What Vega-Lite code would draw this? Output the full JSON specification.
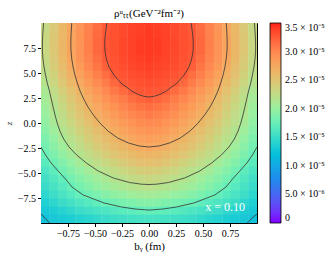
{
"$schema":"https://vega.github.io/schema/vega-lite/v6.json",
"width":216,"height":200,
"autosize":{"type":"none"},
"padding":{"left":41,"top":23,"right":78,"bottom":38},
"title":{"text":"ρᵘₜₜ(GeV⁻²fm⁻²)","fontSize":11,"font":"Liberation Serif","fontWeight":"normal","offset":4,"color":"black"},
"config":{"view":{"stroke":"black","strokeWidth":1},"font":"Liberation Serif",
"axis":{"labelFont":"Liberation Serif","labelFontSize":10,"labelColor":"black","labelOverlap":false,"tickColor":"black","domainColor":"black","grid":false,"tickSize":3.5,"titleFont":"Liberation Serif","titleFontSize":11,"titleFontWeight":"normal","titleColor":"black"}},
"datasets":{
"heat":[
{"b":-0.96,"z":9.6,"v":2.29e-5},{"b":-0.88,"z":9.6,"v":2.45e-5},{"b":-0.8,"z":9.6,"v":2.61e-5},{"b":-0.72,"z":9.6,"v":2.76e-5},{"b":-0.64,"z":9.6,"v":2.90e-5},{"b":-0.56,"z":9.6,"v":3.03e-5},{"b":-0.48,"z":9.6,"v":3.15e-5},{"b":-0.4,"z":9.6,"v":3.25e-5},{"b":-0.32,"z":9.6,"v":3.30e-5},{"b":-0.24,"z":9.6,"v":3.34e-5},{"b":-0.16,"z":9.6,"v":3.37e-5},{"b":-0.08,"z":9.6,"v":3.39e-5},{"b":0,"z":9.6,"v":3.41e-5},{"b":0.08,"z":9.6,"v":3.39e-5},{"b":0.16,"z":9.6,"v":3.37e-5},{"b":0.24,"z":9.6,"v":3.34e-5},{"b":0.32,"z":9.6,"v":3.30e-5},{"b":0.4,"z":9.6,"v":3.25e-5},{"b":0.48,"z":9.6,"v":3.15e-5},{"b":0.56,"z":9.6,"v":3.03e-5},{"b":0.64,"z":9.6,"v":2.90e-5},{"b":0.72,"z":9.6,"v":2.76e-5},{"b":0.8,"z":9.6,"v":2.61e-5},{"b":0.88,"z":9.6,"v":2.45e-5},{"b":0.96,"z":9.6,"v":2.29e-5},
{"b":-0.96,"z":8.8,"v":2.30e-5},{"b":-0.88,"z":8.8,"v":2.46e-5},{"b":-0.8,"z":8.8,"v":2.62e-5},{"b":-0.72,"z":8.8,"v":2.77e-5},{"b":-0.64,"z":8.8,"v":2.91e-5},{"b":-0.56,"z":8.8,"v":3.04e-5},{"b":-0.48,"z":8.8,"v":3.17e-5},{"b":-0.4,"z":8.8,"v":3.26e-5},{"b":-0.32,"z":8.8,"v":3.31e-5},{"b":-0.24,"z":8.8,"v":3.34e-5},{"b":-0.16,"z":8.8,"v":3.38e-5},{"b":-0.08,"z":8.8,"v":3.40e-5},{"b":0,"z":8.8,"v":3.42e-5},{"b":0.08,"z":8.8,"v":3.40e-5},{"b":0.16,"z":8.8,"v":3.38e-5},{"b":0.24,"z":8.8,"v":3.34e-5},{"b":0.32,"z":8.8,"v":3.31e-5},{"b":0.4,"z":8.8,"v":3.26e-5},{"b":0.48,"z":8.8,"v":3.17e-5},{"b":0.56,"z":8.8,"v":3.04e-5},{"b":0.64,"z":8.8,"v":2.91e-5},{"b":0.72,"z":8.8,"v":2.77e-5},{"b":0.8,"z":8.8,"v":2.62e-5},{"b":0.88,"z":8.8,"v":2.46e-5},{"b":0.96,"z":8.8,"v":2.30e-5},
{"b":-0.96,"z":8.0,"v":2.31e-5},{"b":-0.88,"z":8.0,"v":2.47e-5},{"b":-0.8,"z":8.0,"v":2.63e-5},{"b":-0.72,"z":8.0,"v":2.78e-5},{"b":-0.64,"z":8.0,"v":2.92e-5},{"b":-0.56,"z":8.0,"v":3.05e-5},{"b":-0.48,"z":8.0,"v":3.18e-5},{"b":-0.4,"z":8.0,"v":3.27e-5},{"b":-0.32,"z":8.0,"v":3.31e-5},{"b":-0.24,"z":8.0,"v":3.35e-5},{"b":-0.16,"z":8.0,"v":3.38e-5},{"b":-0.08,"z":8.0,"v":3.41e-5},{"b":0,"z":8.0,"v":3.42e-5},{"b":0.08,"z":8.0,"v":3.41e-5},{"b":0.16,"z":8.0,"v":3.38e-5},{"b":0.24,"z":8.0,"v":3.35e-5},{"b":0.32,"z":8.0,"v":3.31e-5},{"b":0.4,"z":8.0,"v":3.27e-5},{"b":0.48,"z":8.0,"v":3.18e-5},{"b":0.56,"z":8.0,"v":3.05e-5},{"b":0.64,"z":8.0,"v":2.92e-5},{"b":0.72,"z":8.0,"v":2.78e-5},{"b":0.8,"z":8.0,"v":2.63e-5},{"b":0.88,"z":8.0,"v":2.47e-5},{"b":0.96,"z":8.0,"v":2.31e-5},
{"b":-0.96,"z":7.2,"v":2.31e-5},{"b":-0.88,"z":7.2,"v":2.47e-5},{"b":-0.8,"z":7.2,"v":2.63e-5},{"b":-0.72,"z":7.2,"v":2.78e-5},{"b":-0.64,"z":7.2,"v":2.92e-5},{"b":-0.56,"z":7.2,"v":3.05e-5},{"b":-0.48,"z":7.2,"v":3.18e-5},{"b":-0.4,"z":7.2,"v":3.27e-5},{"b":-0.32,"z":7.2,"v":3.31e-5},{"b":-0.24,"z":7.2,"v":3.35e-5},{"b":-0.16,"z":7.2,"v":3.38e-5},{"b":-0.08,"z":7.2,"v":3.41e-5},{"b":0,"z":7.2,"v":3.42e-5},{"b":0.08,"z":7.2,"v":3.41e-5},{"b":0.16,"z":7.2,"v":3.38e-5},{"b":0.24,"z":7.2,"v":3.35e-5},{"b":0.32,"z":7.2,"v":3.31e-5},{"b":0.4,"z":7.2,"v":3.27e-5},{"b":0.48,"z":7.2,"v":3.18e-5},{"b":0.56,"z":7.2,"v":3.05e-5},{"b":0.64,"z":7.2,"v":2.92e-5},{"b":0.72,"z":7.2,"v":2.78e-5},{"b":0.8,"z":7.2,"v":2.63e-5},{"b":0.88,"z":7.2,"v":2.47e-5},{"b":0.96,"z":7.2,"v":2.31e-5},
{"b":-0.96,"z":6.4,"v":2.29e-5},{"b":-0.88,"z":6.4,"v":2.45e-5},{"b":-0.8,"z":6.4,"v":2.61e-5},{"b":-0.72,"z":6.4,"v":2.76e-5},{"b":-0.64,"z":6.4,"v":2.90e-5},{"b":-0.56,"z":6.4,"v":3.03e-5},{"b":-0.48,"z":6.4,"v":3.15e-5},{"b":-0.4,"z":6.4,"v":3.25e-5},{"b":-0.32,"z":6.4,"v":3.30e-5},{"b":-0.24,"z":6.4,"v":3.34e-5},{"b":-0.16,"z":6.4,"v":3.37e-5},{"b":-0.08,"z":6.4,"v":3.39e-5},{"b":0,"z":6.4,"v":3.41e-5},{"b":0.08,"z":6.4,"v":3.39e-5},{"b":0.16,"z":6.4,"v":3.37e-5},{"b":0.24,"z":6.4,"v":3.34e-5},{"b":0.32,"z":6.4,"v":3.30e-5},{"b":0.4,"z":6.4,"v":3.25e-5},{"b":0.48,"z":6.4,"v":3.15e-5},{"b":0.56,"z":6.4,"v":3.03e-5},{"b":0.64,"z":6.4,"v":2.90e-5},{"b":0.72,"z":6.4,"v":2.76e-5},{"b":0.8,"z":6.4,"v":2.61e-5},{"b":0.88,"z":6.4,"v":2.45e-5},{"b":0.96,"z":6.4,"v":2.29e-5},
{"b":-0.96,"z":5.6,"v":2.26e-5},{"b":-0.88,"z":5.6,"v":2.42e-5},{"b":-0.8,"z":5.6,"v":2.57e-5},{"b":-0.72,"z":5.6,"v":2.72e-5},{"b":-0.64,"z":5.6,"v":2.86e-5},{"b":-0.56,"z":5.6,"v":2.99e-5},{"b":-0.48,"z":5.6,"v":3.11e-5},{"b":-0.4,"z":5.6,"v":3.22e-5},{"b":-0.32,"z":5.6,"v":3.28e-5},{"b":-0.24,"z":5.6,"v":3.32e-5},{"b":-0.16,"z":5.6,"v":3.35e-5},{"b":-0.08,"z":5.6,"v":3.37e-5},{"b":0,"z":5.6,"v":3.39e-5},{"b":0.08,"z":5.6,"v":3.37e-5},{"b":0.16,"z":5.6,"v":3.35e-5},{"b":0.24,"z":5.6,"v":3.32e-5},{"b":0.32,"z":5.6,"v":3.28e-5},{"b":0.4,"z":5.6,"v":3.22e-5},{"b":0.48,"z":5.6,"v":3.11e-5},{"b":0.56,"z":5.6,"v":2.99e-5},{"b":0.64,"z":5.6,"v":2.86e-5},{"b":0.72,"z":5.6,"v":2.72e-5},{"b":0.8,"z":5.6,"v":2.57e-5},{"b":0.88,"z":5.6,"v":2.42e-5},{"b":0.96,"z":5.6,"v":2.26e-5},
{"b":-0.96,"z":4.8,"v":2.22e-5},{"b":-0.88,"z":4.8,"v":2.37e-5},{"b":-0.8,"z":4.8,"v":2.52e-5},{"b":-0.72,"z":4.8,"v":2.67e-5},{"b":-0.64,"z":4.8,"v":2.80e-5},{"b":-0.56,"z":4.8,"v":2.93e-5},{"b":-0.48,"z":4.8,"v":3.05e-5},{"b":-0.4,"z":4.8,"v":3.15e-5},{"b":-0.32,"z":4.8,"v":3.25e-5},{"b":-0.24,"z":4.8,"v":3.29e-5},{"b":-0.16,"z":4.8,"v":3.32e-5},{"b":-0.08,"z":4.8,"v":3.34e-5},{"b":0,"z":4.8,"v":3.36e-5},{"b":0.08,"z":4.8,"v":3.34e-5},{"b":0.16,"z":4.8,"v":3.32e-5},{"b":0.24,"z":4.8,"v":3.29e-5},{"b":0.32,"z":4.8,"v":3.25e-5},{"b":0.4,"z":4.8,"v":3.15e-5},{"b":0.48,"z":4.8,"v":3.05e-5},{"b":0.56,"z":4.8,"v":2.93e-5},{"b":0.64,"z":4.8,"v":2.80e-5},{"b":0.72,"z":4.8,"v":2.67e-5},{"b":0.8,"z":4.8,"v":2.52e-5},{"b":0.88,"z":4.8,"v":2.37e-5},{"b":0.96,"z":4.8,"v":2.22e-5},
{"b":-0.96,"z":4.0,"v":2.17e-5},{"b":-0.88,"z":4.0,"v":2.32e-5},{"b":-0.8,"z":4.0,"v":2.47e-5},{"b":-0.72,"z":4.0,"v":2.61e-5},{"b":-0.64,"z":4.0,"v":2.74e-5},{"b":-0.56,"z":4.0,"v":2.86e-5},{"b":-0.48,"z":4.0,"v":2.98e-5},{"b":-0.4,"z":4.0,"v":3.08e-5},{"b":-0.32,"z":4.0,"v":3.18e-5},{"b":-0.24,"z":4.0,"v":3.25e-5},{"b":-0.16,"z":4.0,"v":3.28e-5},{"b":-0.08,"z":4.0,"v":3.31e-5},{"b":0,"z":4.0,"v":3.32e-5},{"b":0.08,"z":4.0,"v":3.31e-5},{"b":0.16,"z":4.0,"v":3.28e-5},{"b":0.24,"z":4.0,"v":3.25e-5},{"b":0.32,"z":4.0,"v":3.18e-5},{"b":0.4,"z":4.0,"v":3.08e-5},{"b":0.48,"z":4.0,"v":2.98e-5},{"b":0.56,"z":4.0,"v":2.86e-5},{"b":0.64,"z":4.0,"v":2.74e-5},{"b":0.72,"z":4.0,"v":2.61e-5},{"b":0.8,"z":4.0,"v":2.47e-5},{"b":0.88,"z":4.0,"v":2.32e-5},{"b":0.96,"z":4.0,"v":2.17e-5},
{"b":-0.96,"z":3.2,"v":2.11e-5},{"b":-0.88,"z":3.2,"v":2.26e-5},{"b":-0.8,"z":3.2,"v":2.40e-5},{"b":-0.72,"z":3.2,"v":2.53e-5},{"b":-0.64,"z":3.2,"v":2.66e-5},{"b":-0.56,"z":3.2,"v":2.78e-5},{"b":-0.48,"z":3.2,"v":2.89e-5},{"b":-0.4,"z":3.2,"v":2.99e-5},{"b":-0.32,"z":3.2,"v":3.09e-5},{"b":-0.24,"z":3.2,"v":3.17e-5},{"b":-0.16,"z":3.2,"v":3.24e-5},{"b":-0.08,"z":3.2,"v":3.27e-5},{"b":0,"z":3.2,"v":3.28e-5},{"b":0.08,"z":3.2,"v":3.27e-5},{"b":0.16,"z":3.2,"v":3.24e-5},{"b":0.24,"z":3.2,"v":3.17e-5},{"b":0.32,"z":3.2,"v":3.09e-5},{"b":0.4,"z":3.2,"v":2.99e-5},{"b":0.48,"z":3.2,"v":2.89e-5},{"b":0.56,"z":3.2,"v":2.78e-5},{"b":0.64,"z":3.2,"v":2.66e-5},{"b":0.72,"z":3.2,"v":2.53e-5},{"b":0.8,"z":3.2,"v":2.40e-5},{"b":0.88,"z":3.2,"v":2.26e-5},{"b":0.96,"z":3.2,"v":2.11e-5},
{"b":-0.96,"z":2.4,"v":2.07e-5},{"b":-0.88,"z":2.4,"v":2.21e-5},{"b":-0.8,"z":2.4,"v":2.35e-5},{"b":-0.72,"z":2.4,"v":2.47e-5},{"b":-0.64,"z":2.4,"v":2.60e-5},{"b":-0.56,"z":2.4,"v":2.71e-5},{"b":-0.48,"z":2.4,"v":2.82e-5},{"b":-0.4,"z":2.4,"v":2.92e-5},{"b":-0.32,"z":2.4,"v":3.01e-5},{"b":-0.24,"z":2.4,"v":3.08e-5},{"b":-0.16,"z":2.4,"v":3.15e-5},{"b":-0.08,"z":2.4,"v":3.20e-5},{"b":0,"z":2.4,"v":3.23e-5},{"b":0.08,"z":2.4,"v":3.20e-5},{"b":0.16,"z":2.4,"v":3.15e-5},{"b":0.24,"z":2.4,"v":3.08e-5},{"b":0.32,"z":2.4,"v":3.01e-5},{"b":0.4,"z":2.4,"v":2.92e-5},{"b":0.48,"z":2.4,"v":2.82e-5},{"b":0.56,"z":2.4,"v":2.71e-5},{"b":0.64,"z":2.4,"v":2.60e-5},{"b":0.72,"z":2.4,"v":2.47e-5},{"b":0.8,"z":2.4,"v":2.35e-5},{"b":0.88,"z":2.4,"v":2.21e-5},{"b":0.96,"z":2.4,"v":2.07e-5},
{"b":-0.96,"z":1.6,"v":2.03e-5},{"b":-0.88,"z":1.6,"v":2.17e-5},{"b":-0.8,"z":1.6,"v":2.30e-5},{"b":-0.72,"z":1.6,"v":2.42e-5},{"b":-0.64,"z":1.6,"v":2.54e-5},{"b":-0.56,"z":1.6,"v":2.65e-5},{"b":-0.48,"z":1.6,"v":2.75e-5},{"b":-0.4,"z":1.6,"v":2.85e-5},{"b":-0.32,"z":1.6,"v":2.93e-5},{"b":-0.24,"z":1.6,"v":3.01e-5},{"b":-0.16,"z":1.6,"v":3.07e-5},{"b":-0.08,"z":1.6,"v":3.12e-5},{"b":0,"z":1.6,"v":3.15e-5},{"b":0.08,"z":1.6,"v":3.12e-5},{"b":0.16,"z":1.6,"v":3.07e-5},{"b":0.24,"z":1.6,"v":3.01e-5},{"b":0.32,"z":1.6,"v":2.93e-5},{"b":0.4,"z":1.6,"v":2.85e-5},{"b":0.48,"z":1.6,"v":2.75e-5},{"b":0.56,"z":1.6,"v":2.65e-5},{"b":0.64,"z":1.6,"v":2.54e-5},{"b":0.72,"z":1.6,"v":2.42e-5},{"b":0.8,"z":1.6,"v":2.30e-5},{"b":0.88,"z":1.6,"v":2.17e-5},{"b":0.96,"z":1.6,"v":2.03e-5},
{"b":-0.96,"z":0.8,"v":2.00e-5},{"b":-0.88,"z":0.8,"v":2.13e-5},{"b":-0.8,"z":0.8,"v":2.25e-5},{"b":-0.72,"z":0.8,"v":2.37e-5},{"b":-0.64,"z":0.8,"v":2.49e-5},{"b":-0.56,"z":0.8,"v":2.59e-5},{"b":-0.48,"z":0.8,"v":2.69e-5},{"b":-0.4,"z":0.8,"v":2.78e-5},{"b":-0.32,"z":0.8,"v":2.86e-5},{"b":-0.24,"z":0.8,"v":2.94e-5},{"b":-0.16,"z":0.8,"v":3.00e-5},{"b":-0.08,"z":0.8,"v":3.04e-5},{"b":0,"z":0.8,"v":3.07e-5},{"b":0.08,"z":0.8,"v":3.04e-5},{"b":0.16,"z":0.8,"v":3.00e-5},{"b":0.24,"z":0.8,"v":2.94e-5},{"b":0.32,"z":0.8,"v":2.86e-5},{"b":0.4,"z":0.8,"v":2.78e-5},{"b":0.48,"z":0.8,"v":2.69e-5},{"b":0.56,"z":0.8,"v":2.59e-5},{"b":0.64,"z":0.8,"v":2.49e-5},{"b":0.72,"z":0.8,"v":2.37e-5},{"b":0.8,"z":0.8,"v":2.25e-5},{"b":0.88,"z":0.8,"v":2.13e-5},{"b":0.96,"z":0.8,"v":2.00e-5},
{"b":-0.96,"z":0,"v":1.96e-5},{"b":-0.88,"z":0,"v":2.09e-5},{"b":-0.8,"z":0,"v":2.21e-5},{"b":-0.72,"z":0,"v":2.32e-5},{"b":-0.64,"z":0,"v":2.43e-5},{"b":-0.56,"z":0,"v":2.53e-5},{"b":-0.48,"z":0,"v":2.63e-5},{"b":-0.4,"z":0,"v":2.71e-5},{"b":-0.32,"z":0,"v":2.79e-5},{"b":-0.24,"z":0,"v":2.86e-5},{"b":-0.16,"z":0,"v":2.92e-5},{"b":-0.08,"z":0,"v":2.97e-5},{"b":0,"z":0,"v":2.99e-5},{"b":0.08,"z":0,"v":2.97e-5},{"b":0.16,"z":0,"v":2.92e-5},{"b":0.24,"z":0,"v":2.86e-5},{"b":0.32,"z":0,"v":2.79e-5},{"b":0.4,"z":0,"v":2.71e-5},{"b":0.48,"z":0,"v":2.63e-5},{"b":0.56,"z":0,"v":2.53e-5},{"b":0.64,"z":0,"v":2.43e-5},{"b":0.72,"z":0,"v":2.32e-5},{"b":0.8,"z":0,"v":2.21e-5},{"b":0.88,"z":0,"v":2.09e-5},{"b":0.96,"z":0,"v":1.96e-5},
{"b":-0.96,"z":-0.8,"v":1.91e-5},{"b":-0.88,"z":-0.8,"v":2.03e-5},{"b":-0.8,"z":-0.8,"v":2.15e-5},{"b":-0.72,"z":-0.8,"v":2.26e-5},{"b":-0.64,"z":-0.8,"v":2.37e-5},{"b":-0.56,"z":-0.8,"v":2.46e-5},{"b":-0.48,"z":-0.8,"v":2.56e-5},{"b":-0.4,"z":-0.8,"v":2.64e-5},{"b":-0.32,"z":-0.8,"v":2.72e-5},{"b":-0.24,"z":-0.8,"v":2.78e-5},{"b":-0.16,"z":-0.8,"v":2.84e-5},{"b":-0.08,"z":-0.8,"v":2.89e-5},{"b":0,"z":-0.8,"v":2.91e-5},{"b":0.08,"z":-0.8,"v":2.89e-5},{"b":0.16,"z":-0.8,"v":2.84e-5},{"b":0.24,"z":-0.8,"v":2.78e-5},{"b":0.32,"z":-0.8,"v":2.72e-5},{"b":0.4,"z":-0.8,"v":2.64e-5},{"b":0.48,"z":-0.8,"v":2.56e-5},{"b":0.56,"z":-0.8,"v":2.46e-5},{"b":0.64,"z":-0.8,"v":2.37e-5},{"b":0.72,"z":-0.8,"v":2.26e-5},{"b":0.8,"z":-0.8,"v":2.15e-5},{"b":0.88,"z":-0.8,"v":2.03e-5},{"b":0.96,"z":-0.8,"v":1.91e-5},
{"b":-0.96,"z":-1.6,"v":1.86e-5},{"b":-0.88,"z":-1.6,"v":1.98e-5},{"b":-0.8,"z":-1.6,"v":2.09e-5},{"b":-0.72,"z":-1.6,"v":2.20e-5},{"b":-0.64,"z":-1.6,"v":2.30e-5},{"b":-0.56,"z":-1.6,"v":2.40e-5},{"b":-0.48,"z":-1.6,"v":2.49e-5},{"b":-0.4,"z":-1.6,"v":2.57e-5},{"b":-0.32,"z":-1.6,"v":2.64e-5},{"b":-0.24,"z":-1.6,"v":2.71e-5},{"b":-0.16,"z":-1.6,"v":2.76e-5},{"b":-0.08,"z":-1.6,"v":2.81e-5},{"b":0,"z":-1.6,"v":2.83e-5},{"b":0.08,"z":-1.6,"v":2.81e-5},{"b":0.16,"z":-1.6,"v":2.76e-5},{"b":0.24,"z":-1.6,"v":2.71e-5},{"b":0.32,"z":-1.6,"v":2.64e-5},{"b":0.4,"z":-1.6,"v":2.57e-5},{"b":0.48,"z":-1.6,"v":2.49e-5},{"b":0.56,"z":-1.6,"v":2.40e-5},{"b":0.64,"z":-1.6,"v":2.30e-5},{"b":0.72,"z":-1.6,"v":2.20e-5},{"b":0.8,"z":-1.6,"v":2.09e-5},{"b":0.88,"z":-1.6,"v":1.98e-5},{"b":0.96,"z":-1.6,"v":1.86e-5},
{"b":-0.96,"z":-2.4,"v":1.81e-5},{"b":-0.88,"z":-2.4,"v":1.92e-5},{"b":-0.8,"z":-2.4,"v":2.03e-5},{"b":-0.72,"z":-2.4,"v":2.14e-5},{"b":-0.64,"z":-2.4,"v":2.24e-5},{"b":-0.56,"z":-2.4,"v":2.33e-5},{"b":-0.48,"z":-2.4,"v":2.42e-5},{"b":-0.4,"z":-2.4,"v":2.50e-5},{"b":-0.32,"z":-2.4,"v":2.57e-5},{"b":-0.24,"z":-2.4,"v":2.63e-5},{"b":-0.16,"z":-2.4,"v":2.69e-5},{"b":-0.08,"z":-2.4,"v":2.73e-5},{"b":0,"z":-2.4,"v":2.75e-5},{"b":0.08,"z":-2.4,"v":2.73e-5},{"b":0.16,"z":-2.4,"v":2.69e-5},{"b":0.24,"z":-2.4,"v":2.63e-5},{"b":0.32,"z":-2.4,"v":2.57e-5},{"b":0.4,"z":-2.4,"v":2.50e-5},{"b":0.48,"z":-2.4,"v":2.42e-5},{"b":0.56,"z":-2.4,"v":2.33e-5},{"b":0.64,"z":-2.4,"v":2.24e-5},{"b":0.72,"z":-2.4,"v":2.14e-5},{"b":0.8,"z":-2.4,"v":2.03e-5},{"b":0.88,"z":-2.4,"v":1.92e-5},{"b":0.96,"z":-2.4,"v":1.81e-5},
{"b":-0.96,"z":-3.2,"v":1.75e-5},{"b":-0.88,"z":-3.2,"v":1.86e-5},{"b":-0.8,"z":-3.2,"v":1.96e-5},{"b":-0.72,"z":-3.2,"v":2.06e-5},{"b":-0.64,"z":-3.2,"v":2.16e-5},{"b":-0.56,"z":-3.2,"v":2.25e-5},{"b":-0.48,"z":-3.2,"v":2.33e-5},{"b":-0.4,"z":-3.2,"v":2.41e-5},{"b":-0.32,"z":-3.2,"v":2.48e-5},{"b":-0.24,"z":-3.2,"v":2.54e-5},{"b":-0.16,"z":-3.2,"v":2.59e-5},{"b":-0.08,"z":-3.2,"v":2.63e-5},{"b":0,"z":-3.2,"v":2.65e-5},{"b":0.08,"z":-3.2,"v":2.63e-5},{"b":0.16,"z":-3.2,"v":2.59e-5},{"b":0.24,"z":-3.2,"v":2.54e-5},{"b":0.32,"z":-3.2,"v":2.48e-5},{"b":0.4,"z":-3.2,"v":2.41e-5},{"b":0.48,"z":-3.2,"v":2.33e-5},{"b":0.56,"z":-3.2,"v":2.25e-5},{"b":0.64,"z":-3.2,"v":2.16e-5},{"b":0.72,"z":-3.2,"v":2.06e-5},{"b":0.8,"z":-3.2,"v":1.96e-5},{"b":0.88,"z":-3.2,"v":1.86e-5},{"b":0.96,"z":-3.2,"v":1.75e-5},
{"b":-0.96,"z":-4.0,"v":1.68e-5},{"b":-0.88,"z":-4.0,"v":1.78e-5},{"b":-0.8,"z":-4.0,"v":1.88e-5},{"b":-0.72,"z":-4.0,"v":1.98e-5},{"b":-0.64,"z":-4.0,"v":2.07e-5},{"b":-0.56,"z":-4.0,"v":2.16e-5},{"b":-0.48,"z":-4.0,"v":2.24e-5},{"b":-0.4,"z":-4.0,"v":2.31e-5},{"b":-0.32,"z":-4.0,"v":2.37e-5},{"b":-0.24,"z":-4.0,"v":2.43e-5},{"b":-0.16,"z":-4.0,"v":2.48e-5},{"b":-0.08,"z":-4.0,"v":2.52e-5},{"b":0,"z":-4.0,"v":2.54e-5},{"b":0.08,"z":-4.0,"v":2.52e-5},{"b":0.16,"z":-4.0,"v":2.48e-5},{"b":0.24,"z":-4.0,"v":2.43e-5},{"b":0.32,"z":-4.0,"v":2.37e-5},{"b":0.4,"z":-4.0,"v":2.31e-5},{"b":0.48,"z":-4.0,"v":2.24e-5},{"b":0.56,"z":-4.0,"v":2.16e-5},{"b":0.64,"z":-4.0,"v":2.07e-5},{"b":0.72,"z":-4.0,"v":1.98e-5},{"b":0.8,"z":-4.0,"v":1.88e-5},{"b":0.88,"z":-4.0,"v":1.78e-5},{"b":0.96,"z":-4.0,"v":1.68e-5},
{"b":-0.96,"z":-4.8,"v":1.60e-5},{"b":-0.88,"z":-4.8,"v":1.70e-5},{"b":-0.8,"z":-4.8,"v":1.80e-5},{"b":-0.72,"z":-4.8,"v":1.89e-5},{"b":-0.64,"z":-4.8,"v":1.98e-5},{"b":-0.56,"z":-4.8,"v":2.06e-5},{"b":-0.48,"z":-4.8,"v":2.13e-5},{"b":-0.4,"z":-4.8,"v":2.20e-5},{"b":-0.32,"z":-4.8,"v":2.26e-5},{"b":-0.24,"z":-4.8,"v":2.32e-5},{"b":-0.16,"z":-4.8,"v":2.36e-5},{"b":-0.08,"z":-4.8,"v":2.40e-5},{"b":0,"z":-4.8,"v":2.42e-5},{"b":0.08,"z":-4.8,"v":2.40e-5},{"b":0.16,"z":-4.8,"v":2.36e-5},{"b":0.24,"z":-4.8,"v":2.32e-5},{"b":0.32,"z":-4.8,"v":2.26e-5},{"b":0.4,"z":-4.8,"v":2.20e-5},{"b":0.48,"z":-4.8,"v":2.13e-5},{"b":0.56,"z":-4.8,"v":2.06e-5},{"b":0.64,"z":-4.8,"v":1.98e-5},{"b":0.72,"z":-4.8,"v":1.89e-5},{"b":0.8,"z":-4.8,"v":1.80e-5},{"b":0.88,"z":-4.8,"v":1.70e-5},{"b":0.96,"z":-4.8,"v":1.60e-5},
{"b":-0.96,"z":-5.6,"v":1.54e-5},{"b":-0.88,"z":-5.6,"v":1.63e-5},{"b":-0.8,"z":-5.6,"v":1.72e-5},{"b":-0.72,"z":-5.6,"v":1.81e-5},{"b":-0.64,"z":-5.6,"v":1.89e-5},{"b":-0.56,"z":-5.6,"v":1.96e-5},{"b":-0.48,"z":-5.6,"v":2.04e-5},{"b":-0.4,"z":-5.6,"v":2.10e-5},{"b":-0.32,"z":-5.6,"v":2.16e-5},{"b":-0.24,"z":-5.6,"v":2.21e-5},{"b":-0.16,"z":-5.6,"v":2.26e-5},{"b":-0.08,"z":-5.6,"v":2.29e-5},{"b":0,"z":-5.6,"v":2.31e-5},{"b":0.08,"z":-5.6,"v":2.29e-5},{"b":0.16,"z":-5.6,"v":2.26e-5},{"b":0.24,"z":-5.6,"v":2.21e-5},{"b":0.32,"z":-5.6,"v":2.16e-5},{"b":0.4,"z":-5.6,"v":2.10e-5},{"b":0.48,"z":-5.6,"v":2.04e-5},{"b":0.56,"z":-5.6,"v":1.96e-5},{"b":0.64,"z":-5.6,"v":1.89e-5},{"b":0.72,"z":-5.6,"v":1.81e-5},{"b":0.8,"z":-5.6,"v":1.72e-5},{"b":0.88,"z":-5.6,"v":1.63e-5},{"b":0.96,"z":-5.6,"v":1.54e-5},
{"b":-0.96,"z":-6.4,"v":1.49e-5},{"b":-0.88,"z":-6.4,"v":1.58e-5},{"b":-0.8,"z":-6.4,"v":1.66e-5},{"b":-0.72,"z":-6.4,"v":1.74e-5},{"b":-0.64,"z":-6.4,"v":1.82e-5},{"b":-0.56,"z":-6.4,"v":1.89e-5},{"b":-0.48,"z":-6.4,"v":1.96e-5},{"b":-0.4,"z":-6.4,"v":2.02e-5},{"b":-0.32,"z":-6.4,"v":2.07e-5},{"b":-0.24,"z":-6.4,"v":2.12e-5},{"b":-0.16,"z":-6.4,"v":2.16e-5},{"b":-0.08,"z":-6.4,"v":2.19e-5},{"b":0,"z":-6.4,"v":2.21e-5},{"b":0.08,"z":-6.4,"v":2.19e-5},{"b":0.16,"z":-6.4,"v":2.16e-5},{"b":0.24,"z":-6.4,"v":2.12e-5},{"b":0.32,"z":-6.4,"v":2.07e-5},{"b":0.4,"z":-6.4,"v":2.02e-5},{"b":0.48,"z":-6.4,"v":1.96e-5},{"b":0.56,"z":-6.4,"v":1.89e-5},{"b":0.64,"z":-6.4,"v":1.82e-5},{"b":0.72,"z":-6.4,"v":1.74e-5},{"b":0.8,"z":-6.4,"v":1.66e-5},{"b":0.88,"z":-6.4,"v":1.58e-5},{"b":0.96,"z":-6.4,"v":1.49e-5},
{"b":-0.96,"z":-7.2,"v":1.44e-5},{"b":-0.88,"z":-7.2,"v":1.51e-5},{"b":-0.8,"z":-7.2,"v":1.59e-5},{"b":-0.72,"z":-7.2,"v":1.66e-5},{"b":-0.64,"z":-7.2,"v":1.73e-5},{"b":-0.56,"z":-7.2,"v":1.79e-5},{"b":-0.48,"z":-7.2,"v":1.85e-5},{"b":-0.4,"z":-7.2,"v":1.90e-5},{"b":-0.32,"z":-7.2,"v":1.95e-5},{"b":-0.24,"z":-7.2,"v":1.99e-5},{"b":-0.16,"z":-7.2,"v":2.03e-5},{"b":-0.08,"z":-7.2,"v":2.05e-5},{"b":0,"z":-7.2,"v":2.07e-5},{"b":0.08,"z":-7.2,"v":2.05e-5},{"b":0.16,"z":-7.2,"v":2.03e-5},{"b":0.24,"z":-7.2,"v":1.99e-5},{"b":0.32,"z":-7.2,"v":1.95e-5},{"b":0.4,"z":-7.2,"v":1.90e-5},{"b":0.48,"z":-7.2,"v":1.85e-5},{"b":0.56,"z":-7.2,"v":1.79e-5},{"b":0.64,"z":-7.2,"v":1.73e-5},{"b":0.72,"z":-7.2,"v":1.66e-5},{"b":0.8,"z":-7.2,"v":1.59e-5},{"b":0.88,"z":-7.2,"v":1.51e-5},{"b":0.96,"z":-7.2,"v":1.44e-5},
{"b":-0.96,"z":-8.0,"v":1.37e-5},{"b":-0.88,"z":-8.0,"v":1.44e-5},{"b":-0.8,"z":-8.0,"v":1.50e-5},{"b":-0.72,"z":-8.0,"v":1.56e-5},{"b":-0.64,"z":-8.0,"v":1.61e-5},{"b":-0.56,"z":-8.0,"v":1.66e-5},{"b":-0.48,"z":-8.0,"v":1.71e-5},{"b":-0.4,"z":-8.0,"v":1.76e-5},{"b":-0.32,"z":-8.0,"v":1.80e-5},{"b":-0.24,"z":-8.0,"v":1.83e-5},{"b":-0.16,"z":-8.0,"v":1.86e-5},{"b":-0.08,"z":-8.0,"v":1.89e-5},{"b":0,"z":-8.0,"v":1.90e-5},{"b":0.08,"z":-8.0,"v":1.89e-5},{"b":0.16,"z":-8.0,"v":1.86e-5},{"b":0.24,"z":-8.0,"v":1.83e-5},{"b":0.32,"z":-8.0,"v":1.80e-5},{"b":0.4,"z":-8.0,"v":1.76e-5},{"b":0.48,"z":-8.0,"v":1.71e-5},{"b":0.56,"z":-8.0,"v":1.66e-5},{"b":0.64,"z":-8.0,"v":1.61e-5},{"b":0.72,"z":-8.0,"v":1.56e-5},{"b":0.8,"z":-8.0,"v":1.50e-5},{"b":0.88,"z":-8.0,"v":1.44e-5},{"b":0.96,"z":-8.0,"v":1.37e-5},
{"b":-0.96,"z":-8.8,"v":1.30e-5},{"b":-0.88,"z":-8.8,"v":1.35e-5},{"b":-0.8,"z":-8.8,"v":1.40e-5},{"b":-0.72,"z":-8.8,"v":1.45e-5},{"b":-0.64,"z":-8.8,"v":1.50e-5},{"b":-0.56,"z":-8.8,"v":1.54e-5},{"b":-0.48,"z":-8.8,"v":1.58e-5},{"b":-0.4,"z":-8.8,"v":1.61e-5},{"b":-0.32,"z":-8.8,"v":1.65e-5},{"b":-0.24,"z":-8.8,"v":1.68e-5},{"b":-0.16,"z":-8.8,"v":1.70e-5},{"b":-0.08,"z":-8.8,"v":1.72e-5},{"b":0,"z":-8.8,"v":1.73e-5},{"b":0.08,"z":-8.8,"v":1.72e-5},{"b":0.16,"z":-8.8,"v":1.70e-5},{"b":0.24,"z":-8.8,"v":1.68e-5},{"b":0.32,"z":-8.8,"v":1.65e-5},{"b":0.4,"z":-8.8,"v":1.61e-5},{"b":0.48,"z":-8.8,"v":1.58e-5},{"b":0.56,"z":-8.8,"v":1.54e-5},{"b":0.64,"z":-8.8,"v":1.50e-5},{"b":0.72,"z":-8.8,"v":1.45e-5},{"b":0.8,"z":-8.8,"v":1.40e-5},{"b":0.88,"z":-8.8,"v":1.35e-5},{"b":0.96,"z":-8.8,"v":1.30e-5},
{"b":-0.96,"z":-9.6,"v":1.23e-5},{"b":-0.88,"z":-9.6,"v":1.27e-5},{"b":-0.8,"z":-9.6,"v":1.31e-5},{"b":-0.72,"z":-9.6,"v":1.35e-5},{"b":-0.64,"z":-9.6,"v":1.39e-5},{"b":-0.56,"z":-9.6,"v":1.42e-5},{"b":-0.48,"z":-9.6,"v":1.46e-5},{"b":-0.4,"z":-9.6,"v":1.49e-5},{"b":-0.32,"z":-9.6,"v":1.51e-5},{"b":-0.24,"z":-9.6,"v":1.54e-5},{"b":-0.16,"z":-9.6,"v":1.56e-5},{"b":-0.08,"z":-9.6,"v":1.57e-5},{"b":0,"z":-9.6,"v":1.58e-5},{"b":0.08,"z":-9.6,"v":1.57e-5},{"b":0.16,"z":-9.6,"v":1.56e-5},{"b":0.24,"z":-9.6,"v":1.54e-5},{"b":0.32,"z":-9.6,"v":1.51e-5},{"b":0.4,"z":-9.6,"v":1.49e-5},{"b":0.48,"z":-9.6,"v":1.46e-5},{"b":0.56,"z":-9.6,"v":1.42e-5},{"b":0.64,"z":-9.6,"v":1.39e-5},{"b":0.72,"z":-9.6,"v":1.35e-5},{"b":0.8,"z":-9.6,"v":1.31e-5},{"b":0.88,"z":-9.6,"v":1.27e-5},{"b":0.96,"z":-9.6,"v":1.23e-5}
],
"contours":[
{"s":"A","i":0,"b":-0.39,"z":10},{"s":"A","i":1,"b":-0.395,"z":9.6},{"s":"A","i":2,"b":-0.405,"z":8.8},{"s":"A","i":3,"b":-0.41,"z":8.0},{"s":"A","i":4,"b":-0.408,"z":7.2},{"s":"A","i":5,"b":-0.395,"z":6.4},{"s":"A","i":6,"b":-0.37,"z":5.6},{"s":"A","i":7,"b":-0.325,"z":4.8},{"s":"A","i":8,"b":-0.26,"z":4.0},{"s":"A","i":9,"b":-0.16,"z":3.2},{"s":"A","i":10,"b":-0.1,"z":2.85},{"s":"A","i":11,"b":-0.05,"z":2.68},{"s":"A","i":12,"b":0,"z":2.6},{"s":"A","i":13,"b":0.05,"z":2.68},{"s":"A","i":14,"b":0.1,"z":2.85},{"s":"A","i":15,"b":0.16,"z":3.2},{"s":"A","i":16,"b":0.26,"z":4.0},{"s":"A","i":17,"b":0.325,"z":4.8},{"s":"A","i":18,"b":0.37,"z":5.6},{"s":"A","i":19,"b":0.395,"z":6.4},{"s":"A","i":20,"b":0.408,"z":7.2},{"s":"A","i":21,"b":0.41,"z":8.0},{"s":"A","i":22,"b":0.405,"z":8.8},{"s":"A","i":23,"b":0.395,"z":9.6},{"s":"A","i":24,"b":0.39,"z":10},
{"s":"B","i":0,"b":-0.715,"z":10},{"s":"B","i":1,"b":-0.718,"z":9.6},{"s":"B","i":2,"b":-0.722,"z":8.8},{"s":"B","i":3,"b":-0.724,"z":8.0},{"s":"B","i":4,"b":-0.722,"z":7.2},{"s":"B","i":5,"b":-0.715,"z":6.4},{"s":"B","i":6,"b":-0.703,"z":5.6},{"s":"B","i":7,"b":-0.686,"z":4.8},{"s":"B","i":8,"b":-0.664,"z":4.0},{"s":"B","i":9,"b":-0.638,"z":3.2},{"s":"B","i":10,"b":-0.605,"z":2.4},{"s":"B","i":11,"b":-0.565,"z":1.6},{"s":"B","i":12,"b":-0.515,"z":0.8},{"s":"B","i":13,"b":-0.455,"z":0},{"s":"B","i":14,"b":-0.38,"z":-0.8},{"s":"B","i":15,"b":-0.29,"z":-1.5},{"s":"B","i":16,"b":-0.19,"z":-2.0},{"s":"B","i":17,"b":-0.09,"z":-2.3},{"s":"B","i":18,"b":0,"z":-2.4},{"s":"B","i":19,"b":0.09,"z":-2.3},{"s":"B","i":20,"b":0.19,"z":-2.0},{"s":"B","i":21,"b":0.29,"z":-1.5},{"s":"B","i":22,"b":0.38,"z":-0.8},{"s":"B","i":23,"b":0.455,"z":0},{"s":"B","i":24,"b":0.515,"z":0.8},{"s":"B","i":25,"b":0.565,"z":1.6},{"s":"B","i":26,"b":0.605,"z":2.4},{"s":"B","i":27,"b":0.638,"z":3.2},{"s":"B","i":28,"b":0.664,"z":4.0},{"s":"B","i":29,"b":0.686,"z":4.8},{"s":"B","i":30,"b":0.703,"z":5.6},{"s":"B","i":31,"b":0.715,"z":6.4},{"s":"B","i":32,"b":0.722,"z":7.2},{"s":"B","i":33,"b":0.724,"z":8.0},{"s":"B","i":34,"b":0.722,"z":8.8},{"s":"B","i":35,"b":0.718,"z":9.6},{"s":"B","i":36,"b":0.715,"z":10},
{"s":"C","i":0,"b":-0.976,"z":10},{"s":"C","i":1,"b":-0.979,"z":9.6},{"s":"C","i":2,"b":-0.984,"z":8.8},{"s":"C","i":3,"b":-0.987,"z":8.0},{"s":"C","i":4,"b":-0.987,"z":7.2},{"s":"C","i":5,"b":-0.982,"z":6.4},{"s":"C","i":6,"b":-0.972,"z":5.6},{"s":"C","i":7,"b":-0.958,"z":4.8},{"s":"C","i":8,"b":-0.942,"z":4.0},{"s":"C","i":9,"b":-0.922,"z":3.2},{"s":"C","i":10,"b":-0.905,"z":2.4},{"s":"C","i":11,"b":-0.888,"z":1.6},{"s":"C","i":12,"b":-0.87,"z":0.8},{"s":"C","i":13,"b":-0.85,"z":0},{"s":"C","i":14,"b":-0.825,"z":-0.8},{"s":"C","i":15,"b":-0.79,"z":-1.6},{"s":"C","i":16,"b":-0.74,"z":-2.4},{"s":"C","i":17,"b":-0.67,"z":-3.2},{"s":"C","i":18,"b":-0.58,"z":-4.0},{"s":"C","i":19,"b":-0.47,"z":-4.8},{"s":"C","i":20,"b":-0.33,"z":-5.5},{"s":"C","i":21,"b":-0.18,"z":-5.95},{"s":"C","i":22,"b":-0.07,"z":-6.12},{"s":"C","i":23,"b":0,"z":-6.15},{"s":"C","i":24,"b":0.07,"z":-6.12},{"s":"C","i":25,"b":0.18,"z":-5.95},{"s":"C","i":26,"b":0.33,"z":-5.5},{"s":"C","i":27,"b":0.47,"z":-4.8},{"s":"C","i":28,"b":0.58,"z":-4.0},{"s":"C","i":29,"b":0.67,"z":-3.2},{"s":"C","i":30,"b":0.74,"z":-2.4},{"s":"C","i":31,"b":0.79,"z":-1.6},{"s":"C","i":32,"b":0.825,"z":-0.8},{"s":"C","i":33,"b":0.85,"z":0},{"s":"C","i":34,"b":0.87,"z":0.8},{"s":"C","i":35,"b":0.888,"z":1.6},{"s":"C","i":36,"b":0.905,"z":2.4},{"s":"C","i":37,"b":0.922,"z":3.2},{"s":"C","i":38,"b":0.942,"z":4.0},{"s":"C","i":39,"b":0.958,"z":4.8},{"s":"C","i":40,"b":0.972,"z":5.6},{"s":"C","i":41,"b":0.982,"z":6.4},{"s":"C","i":42,"b":0.987,"z":7.2},{"s":"C","i":43,"b":0.987,"z":8.0},{"s":"C","i":44,"b":0.984,"z":8.8},{"s":"C","i":45,"b":0.979,"z":9.6},{"s":"C","i":46,"b":0.976,"z":10},
{"s":"D","i":0,"b":-1.0,"z":-2.4},{"s":"D","i":1,"b":-0.958,"z":-3.2},{"s":"D","i":2,"b":-0.906,"z":-4.0},{"s":"D","i":3,"b":-0.841,"z":-4.8},{"s":"D","i":4,"b":-0.773,"z":-5.6},{"s":"D","i":5,"b":-0.713,"z":-6.4},{"s":"D","i":6,"b":-0.609,"z":-7.2},{"s":"D","i":7,"b":-0.415,"z":-8.0},{"s":"D","i":8,"b":-0.254,"z":-8.4},{"s":"D","i":9,"b":-0.129,"z":-8.6},{"s":"D","i":10,"b":0,"z":-8.71},{"s":"D","i":11,"b":0.129,"z":-8.6},{"s":"D","i":12,"b":0.254,"z":-8.4},{"s":"D","i":13,"b":0.415,"z":-8.0},{"s":"D","i":14,"b":0.609,"z":-7.2},{"s":"D","i":15,"b":0.713,"z":-6.4},{"s":"D","i":16,"b":0.773,"z":-5.6},{"s":"D","i":17,"b":0.841,"z":-4.8},{"s":"D","i":18,"b":0.906,"z":-4.0},{"s":"D","i":19,"b":0.958,"z":-3.2},{"s":"D","i":20,"b":1.0,"z":-2.4},
{"s":"E1","i":0,"b":-1.0,"z":-9.07},{"s":"E1","i":1,"b":-0.96,"z":-9.55},{"s":"E1","i":2,"b":-0.92,"z":-10},
{"s":"E2","i":0,"b":0.91,"z":-10},{"s":"E2","i":1,"b":0.955,"z":-9.5},{"s":"E2","i":2,"b":1.0,"z":-9.1}
]
},
"layer":[
{"data":{"name":"heat"},
 "mark":{"type":"rect","width":9,"height":8.6,"clip":true},
 "encoding":{
  "x":{"field":"b","type":"quantitative","scale":{"domain":[-1,1],"nice":false,"zero":false},
       "axis":{"values":[-0.75,-0.5,-0.25,0,0.25,0.5,0.75],"tickCount":20,"format":".2f","labelExpr":"replace(datum.label,'-','−')","title":"bᵧ (fm)","titlePadding":2,"labelOverlap":false,"labelFont":"Liberation Serif"}},
  "y":{"field":"z","type":"quantitative","scale":{"domain":[-10,10],"nice":false,"zero":false},
       "axis":{"values":[-7.5,-5,-2.5,0,2.5,5,7.5],"tickCount":20,"format":".1f","title":"z","titleFontStyle":"italic","titleFontSize":9,"labelOverlap":false,"labelFont":"Liberation Serif"}},
  "color":{"field":"v","type":"quantitative",
    "scale":{"domain":[0,2.5e-6,5e-6,7.5e-6,1e-5,1.25e-5,1.5e-5,1.75e-5,2e-5,2.25e-5,2.5e-5,2.75e-5,3e-5,3.25e-5,3.5e-5],
             "range":["#8000ff","#6a3cf8","#4a66f0","#2c88ec","#14a8e4","#1cc4d8","#3cdcc8","#68f0b8","#98f0a0","#c0dc88","#e0c474","#f8a860","#ff8850","#ff5a38","#ff2018"]},
    "legend":{"title":null,"orient":"right","offset":13,"padding":0,"gradientLength":200,"gradientThickness":11,"gradientStrokeColor":"black","gradientStrokeWidth":0.8,
      "values":[0,5e-6,1e-5,1.5e-5,2e-5,2.5e-5,3e-5,3.5e-5],
      "labelExpr":"datum.value == 0 ? '0' : (datum.value < 9e-6 ? format(datum.value*1e6,'.1f') + ' × 10⁻⁶' : format(datum.value*1e5,'.1f') + ' × 10⁻⁵')",
      "labelFont":"Liberation Serif","labelFontSize":10,"labelColor":"black","labelOffset":4,"labelOverlap":false,"labelBaseline":"middle"}}
 }},
{"data":{"name":"contours"},
 "mark":{"type":"line","color":"#333333","strokeWidth":0.8,"clip":true},
 "encoding":{"x":{"field":"b","type":"quantitative"},"y":{"field":"z","type":"quantitative"},"detail":{"field":"s"},"order":{"field":"i"}}},
{"data":{"values":[{}]},
 "mark":{"type":"text","align":"right","baseline":"middle","color":"white","fontSize":12,"font":"Liberation Serif"},
 "encoding":{"x":{"datum":0.89},"y":{"datum":-8.4},"text":{"value":"x = 0.10"}}}
]
}
